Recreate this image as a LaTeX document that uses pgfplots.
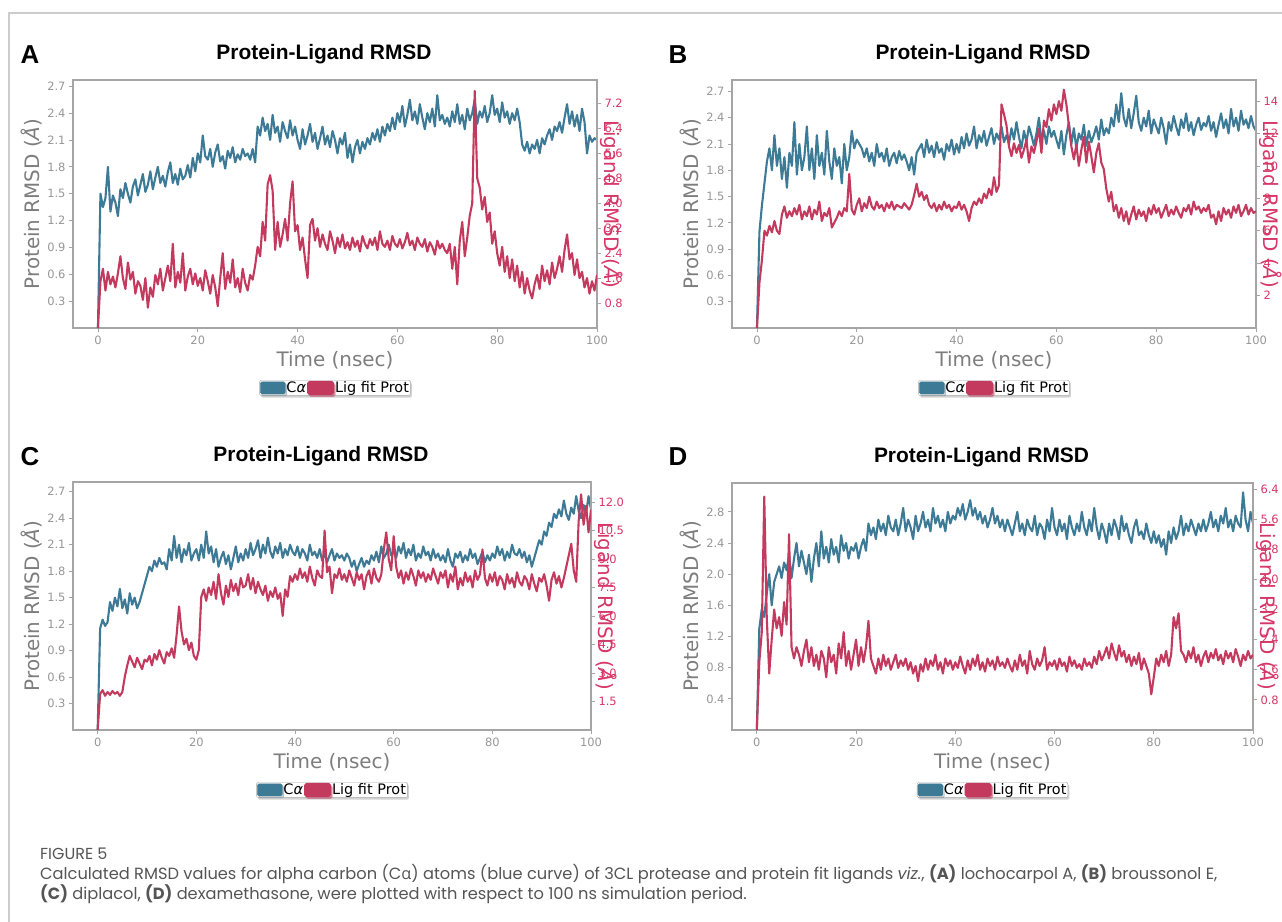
\documentclass[border=0pt]{standalone}
\usepackage{pgfplots}
\pgfplotsset{compat=1.18}
\usepackage{fontspec}
\setmainfont{DejaVu Sans}
\newfontfamily\titlefont{Liberation Sans}
\newfontfamily\capfont{Poppins}
\newfontfamily\grkfont{Open Sans}
\usetikzlibrary{shadows}

\definecolor{ablue}{RGB}{61,122,150}
\definecolor{ared}{RGB}{196,58,94}
\definecolor{rlab}{RGB}{214,54,104}
\definecolor{tickgray}{RGB}{150,150,150}
\definecolor{labgray}{RGB}{125,125,125}
\definecolor{framegray}{RGB}{165,165,165}
\definecolor{capgray}{RGB}{85,85,85}

\pgfplotsset{
  table/tab/.style={row sep=\\, header=false, x expr=\coordindex*0.5, y index=0},
  rmsd/.style={
    scale only axis, xmin=-5, xmax=100, ymin=0,
    tick align=outside, major tick length=4bp,
    every tick/.style={framegray, line width=0.8bp},
    axis line style={framegray, line width=1.2bp},
    tick label style={font=\fontsize{11.5}{13}\selectfont},
    /pgf/number format/assume math mode=true,
  },
  protax/.style={rmsd,
    xtick={0,20,40,60,80,100}, xtick pos=lower, ytick pos=left,
    xticklabel style={tickgray},
    yticklabel style={tickgray, /pgf/number format/.cd, fixed, fixed zerofill, precision=1},
    title={Protein-Ligand RMSD},
    title style={font=\titlefont\bfseries\fontsize{21}{24}\selectfont, at={(axis description cs:0.5,1)}, anchor=center, yshift=20bp, xshift=-11bp},
    xlabel={Time (nsec)},
    xlabel style={labgray, font=\fontsize{20}{24}\selectfont, at={(axis description cs:0.5,0)}, anchor=center, yshift=-32bp},
    ylabel={Protein RMSD (\textit{Å})},
    ylabel style={labgray, font=\fontsize{20}{24}\selectfont, at={(axis description cs:0,0.5)}, anchor=center, yshift=41bp},
  },
  ligax/.style={rmsd,
    axis x line=none, axis y line*=right, ytick pos=right,
    ylabel={Ligand RMSD (\textit{Å})},
    ylabel style={rlab, font=\fontsize{20}{24}\selectfont, at={(axis description cs:1,0.5)}, anchor=center, rotate=180, yshift=15bp},
    legend columns=2,
    legend style={at={(axis description cs:0.5,0)}, anchor=north, yshift=-52bp,
      draw=gray!70, rounded corners=1.5bp, fill=white,
      drop shadow={shadow xshift=1.5bp, shadow yshift=-2bp, fill=gray!70},
      font=\fontsize{14.5}{16}\selectfont, inner sep=0.5bp, nodes={inner sep=1bp},
      /tikz/column sep=0pt},
    legend image code/.code={\fill (0bp,-6bp) rectangle (25bp,6bp);},
  },
  ser/.style={line width=2.1bp, no markers, line join=round},
}

\begin{document}
\begin{tikzpicture}
% frame lines of the figure
\draw[gray!40, line width=1.5bp] (1282bp,-13bp) -- (9bp,-13bp) -- (9bp,-922bp);

% ================= A =================
\begin{axis}[protax, at={(73bp,-328bp)}, anchor=south west, width=524bp, height=248bp,
  ymax=2.77, ytick={0.3,0.6,0.9,1.2,1.5,1.8,2.1,2.4,2.7}]
\addplot[ser, ablue] table[tab] {
0.00\\ 1.50\\ 1.35\\ 1.45\\ 1.80\\ 1.30\\ 1.48\\ 1.40\\ 1.25\\ 1.55\\ 1.45\\ 1.62\\ 1.50\\ 1.40\\ 1.58\\ 1.66\\ 1.48\\ 1.60\\ 1.72\\ 1.52\\
1.60\\ 1.75\\ 1.55\\ 1.68\\ 1.80\\ 1.62\\ 1.70\\ 1.58\\ 1.74\\ 1.85\\ 1.62\\ 1.72\\ 1.60\\ 1.78\\ 1.66\\ 1.70\\ 1.82\\ 1.68\\ 1.90\\ 1.75\\
1.95\\ 1.85\\ 2.15\\ 1.92\\ 1.88\\ 2.00\\ 1.80\\ 1.96\\ 2.05\\ 1.86\\ 1.92\\ 1.78\\ 1.98\\ 1.90\\ 2.02\\ 1.85\\ 1.94\\ 1.88\\ 2.00\\ 1.92\\
1.95\\ 1.88\\ 2.00\\ 1.85\\ 2.25\\ 2.15\\ 2.35\\ 2.20\\ 2.28\\ 2.10\\ 2.38\\ 2.18\\ 2.25\\ 2.08\\ 2.30\\ 2.20\\ 2.12\\ 2.32\\ 2.15\\ 2.25\\
2.10\\ 2.00\\ 2.22\\ 2.05\\ 2.15\\ 2.28\\ 2.08\\ 2.18\\ 2.00\\ 2.12\\ 2.25\\ 2.05\\ 2.15\\ 2.02\\ 2.20\\ 2.10\\ 1.95\\ 2.12\\ 2.05\\ 2.18\\
1.90\\ 2.05\\ 1.85\\ 2.02\\ 2.10\\ 1.95\\ 2.08\\ 2.00\\ 2.12\\ 2.05\\ 2.18\\ 2.10\\ 2.22\\ 2.08\\ 2.25\\ 2.15\\ 2.28\\ 2.20\\ 2.35\\ 2.22\\
2.40\\ 2.30\\ 2.48\\ 2.25\\ 2.38\\ 2.55\\ 2.32\\ 2.42\\ 2.28\\ 2.50\\ 2.35\\ 2.22\\ 2.40\\ 2.30\\ 2.45\\ 2.25\\ 2.60\\ 2.32\\ 2.38\\ 2.28\\
2.35\\ 2.25\\ 2.42\\ 2.30\\ 2.50\\ 2.28\\ 2.38\\ 2.22\\ 2.45\\ 2.32\\ 2.40\\ 2.55\\ 2.28\\ 2.42\\ 2.35\\ 2.48\\ 2.30\\ 2.40\\ 2.60\\ 2.38\\
2.45\\ 2.30\\ 2.52\\ 2.35\\ 2.42\\ 2.28\\ 2.40\\ 2.32\\ 2.45\\ 2.30\\ 2.05\\ 1.98\\ 2.08\\ 1.95\\ 2.05\\ 2.00\\ 2.10\\ 1.95\\ 2.12\\ 2.05\\
2.15\\ 2.22\\ 2.10\\ 2.25\\ 2.20\\ 2.30\\ 2.18\\ 2.35\\ 2.50\\ 2.28\\ 2.42\\ 2.25\\ 2.38\\ 2.20\\ 2.45\\ 2.30\\ 1.95\\ 2.15\\ 2.08\\ 2.12\\
2.10\\
};
\end{axis}
\begin{axis}[ligax, at={(73bp,-328bp)}, anchor=south west, width=524bp, height=248bp,
  ymax=7.95, ytick={0.8,1.6,2.4,3.2,4.0,4.8,5.6,6.4,7.2},
  yticklabel style={rlab, /pgf/number format/.cd, fixed, fixed zerofill, precision=1}]
\addlegendimage{ablue}
\addlegendentry{C\textit{α}}
\addplot[ser, ared] table[tab] {
0.00\\ 1.50\\ 1.90\\ 1.20\\ 1.80\\ 1.40\\ 1.65\\ 1.30\\ 1.75\\ 2.30\\ 1.60\\ 1.25\\ 2.10\\ 1.55\\ 1.80\\ 1.10\\ 1.50\\ 1.35\\ 0.90\\ 1.60\\
0.65\\ 1.30\\ 1.00\\ 1.70\\ 1.40\\ 1.90\\ 1.20\\ 1.60\\ 2.00\\ 1.50\\ 2.70\\ 1.30\\ 1.80\\ 1.45\\ 2.40\\ 1.20\\ 1.65\\ 1.90\\ 1.40\\ 1.75\\
1.35\\ 1.60\\ 1.20\\ 1.85\\ 1.50\\ 1.10\\ 1.70\\ 1.30\\ 0.70\\ 1.60\\ 2.40\\ 1.25\\ 1.80\\ 1.45\\ 2.20\\ 1.30\\ 1.60\\ 1.15\\ 1.90\\ 1.45\\
1.20\\ 1.70\\ 1.55\\ 2.00\\ 2.60\\ 2.30\\ 3.40\\ 2.80\\ 4.60\\ 4.90\\ 4.40\\ 2.50\\ 3.40\\ 2.60\\ 3.00\\ 3.50\\ 2.80\\ 4.00\\ 4.70\\ 3.10\\
3.30\\ 2.50\\ 2.90\\ 2.20\\ 1.60\\ 3.30\\ 3.50\\ 2.80\\ 3.20\\ 2.60\\ 3.00\\ 2.70\\ 2.50\\ 3.10\\ 2.80\\ 2.40\\ 2.90\\ 2.60\\ 3.00\\ 2.55\\
2.75\\ 2.50\\ 2.90\\ 2.60\\ 2.80\\ 2.45\\ 2.95\\ 2.70\\ 2.55\\ 2.85\\ 2.65\\ 2.90\\ 2.50\\ 3.10\\ 2.70\\ 2.60\\ 2.80\\ 2.50\\ 2.95\\ 2.70\\
2.60\\ 2.85\\ 2.55\\ 2.75\\ 3.05\\ 2.65\\ 2.80\\ 2.50\\ 2.90\\ 2.70\\ 2.60\\ 2.85\\ 2.45\\ 2.75\\ 2.60\\ 2.35\\ 2.80\\ 2.55\\ 2.70\\ 2.50\\
2.40\\ 2.70\\ 1.90\\ 2.60\\ 1.40\\ 2.80\\ 3.40\\ 2.30\\ 2.90\\ 3.60\\ 4.00\\ 7.60\\ 4.80\\ 4.50\\ 3.80\\ 4.20\\ 3.40\\ 3.70\\ 2.70\\ 3.10\\
2.40\\ 2.00\\ 2.60\\ 1.80\\ 2.30\\ 1.60\\ 2.20\\ 1.50\\ 2.00\\ 1.30\\ 1.80\\ 1.10\\ 1.60\\ 1.20\\ 0.95\\ 1.40\\ 1.70\\ 1.25\\ 2.00\\ 1.50\\
1.85\\ 1.40\\ 2.10\\ 1.60\\ 1.90\\ 2.30\\ 1.80\\ 2.50\\ 3.00\\ 2.20\\ 2.40\\ 1.70\\ 2.20\\ 1.60\\ 1.80\\ 1.30\\ 1.60\\ 1.10\\ 1.50\\ 1.20\\
1.70\\
};
\addlegendentry{Lig fit Prot}
\end{axis}

% ================= B =================
\begin{axis}[protax, at={(732bp,-328bp)}, anchor=south west, width=524bp, height=248bp,
  ymax=2.83, ytick={0.3,0.6,0.9,1.2,1.5,1.8,2.1,2.4,2.7}]
\addplot[ser, ablue] table[tab] {
0.00\\ 1.10\\ 1.40\\ 1.65\\ 1.90\\ 2.05\\ 1.80\\ 2.20\\ 1.85\\ 2.05\\ 1.70\\ 1.95\\ 1.60\\ 2.00\\ 1.85\\ 2.35\\ 1.75\\ 2.10\\ 1.80\\ 1.95\\
2.30\\ 1.80\\ 2.05\\ 1.70\\ 2.20\\ 1.85\\ 2.00\\ 1.75\\ 2.25\\ 1.90\\ 1.70\\ 2.05\\ 1.85\\ 1.95\\ 1.65\\ 2.10\\ 1.80\\ 1.95\\ 2.25\\ 2.05\\
2.15\\ 2.10\\ 2.05\\ 1.95\\ 2.05\\ 1.90\\ 2.00\\ 1.85\\ 2.10\\ 1.95\\ 2.00\\ 1.90\\ 2.05\\ 1.85\\ 1.95\\ 2.00\\ 1.88\\ 2.02\\ 1.92\\ 1.98\\
1.90\\ 1.80\\ 1.95\\ 1.75\\ 2.00\\ 2.05\\ 2.10\\ 1.95\\ 2.15\\ 2.00\\ 2.08\\ 1.95\\ 2.12\\ 2.00\\ 2.05\\ 1.92\\ 2.10\\ 2.02\\ 2.15\\ 1.98\\
2.10\\ 2.00\\ 2.18\\ 2.05\\ 2.22\\ 2.08\\ 2.15\\ 2.30\\ 2.05\\ 2.20\\ 2.12\\ 2.25\\ 2.08\\ 2.18\\ 2.28\\ 2.10\\ 2.22\\ 2.15\\ 2.30\\ 2.12\\
2.20\\ 2.10\\ 2.28\\ 2.15\\ 2.35\\ 2.18\\ 2.05\\ 2.25\\ 2.12\\ 2.30\\ 2.20\\ 2.08\\ 2.22\\ 2.40\\ 2.15\\ 2.25\\ 2.10\\ 2.30\\ 2.18\\ 2.25\\
2.15\\ 2.05\\ 2.25\\ 1.98\\ 2.20\\ 2.35\\ 2.10\\ 2.28\\ 2.05\\ 2.22\\ 2.15\\ 2.32\\ 2.08\\ 2.25\\ 2.12\\ 2.20\\ 2.30\\ 2.15\\ 2.38\\ 2.20\\
2.28\\ 2.22\\ 2.40\\ 2.30\\ 2.55\\ 2.35\\ 2.68\\ 2.40\\ 2.30\\ 2.50\\ 2.28\\ 2.45\\ 2.65\\ 2.35\\ 2.25\\ 2.40\\ 2.30\\ 2.48\\ 2.22\\ 2.38\\
2.30\\ 2.22\\ 2.40\\ 2.28\\ 2.10\\ 2.35\\ 2.25\\ 2.42\\ 2.30\\ 2.20\\ 2.38\\ 2.28\\ 2.45\\ 2.25\\ 2.35\\ 2.20\\ 2.32\\ 2.40\\ 2.26\\ 2.34\\
2.30\\ 2.42\\ 2.25\\ 2.35\\ 2.18\\ 2.32\\ 2.45\\ 2.28\\ 2.38\\ 2.22\\ 2.50\\ 2.30\\ 2.40\\ 2.25\\ 2.48\\ 2.32\\ 2.38\\ 2.28\\ 2.42\\ 2.30\\
2.25\\
};
\end{axis}
\begin{axis}[ligax, at={(732bp,-328bp)}, anchor=south west, width=524bp, height=248bp,
  ymax=15.3, ytick={2,4,6,8,10,12,14}, yticklabel style={rlab}]
\addlegendimage{ablue}
\addlegendentry{C\textit{α}}
\addplot[ser, ared] table[tab] {
0.00\\ 2.80\\ 4.20\\ 6.00\\ 5.70\\ 6.30\\ 5.90\\ 6.60\\ 6.00\\ 5.80\\ 7.00\\ 7.50\\ 6.80\\ 7.20\\ 6.90\\ 7.40\\ 7.00\\ 7.60\\ 6.70\\ 7.20\\
6.90\\ 7.50\\ 6.70\\ 7.30\\ 7.00\\ 7.80\\ 6.60\\ 7.10\\ 6.90\\ 7.40\\ 6.20\\ 6.50\\ 6.80\\ 7.20\\ 6.90\\ 7.40\\ 7.20\\ 9.50\\ 7.30\\ 7.00\\
7.60\\ 8.00\\ 7.20\\ 7.70\\ 7.40\\ 8.10\\ 7.50\\ 7.30\\ 7.80\\ 7.40\\ 7.60\\ 7.20\\ 7.70\\ 7.40\\ 7.80\\ 7.30\\ 7.60\\ 7.50\\ 7.40\\ 7.70\\
7.50\\ 7.30\\ 7.60\\ 8.20\\ 8.90\\ 8.10\\ 8.40\\ 7.90\\ 8.20\\ 7.60\\ 7.40\\ 7.70\\ 7.20\\ 7.60\\ 7.30\\ 7.80\\ 7.40\\ 7.60\\ 7.20\\ 7.50\\
7.40\\ 7.80\\ 7.30\\ 7.60\\ 7.20\\ 6.60\\ 7.40\\ 7.80\\ 7.60\\ 8.00\\ 7.70\\ 8.30\\ 8.00\\ 8.60\\ 8.20\\ 9.30\\ 8.40\\ 8.80\\ 13.80\\ 13.20\\
12.50\\ 11.20\\ 10.60\\ 11.40\\ 10.80\\ 11.30\\ 10.50\\ 11.00\\ 11.60\\ 10.20\\ 11.20\\ 10.80\\ 11.50\\ 12.30\\ 10.80\\ 12.80\\ 12.40\\ 13.50\\ 12.80\\ 13.80\\
13.20\\ 14.00\\ 13.40\\ 14.70\\ 13.80\\ 12.50\\ 11.20\\ 10.40\\ 11.30\\ 10.00\\ 11.00\\ 11.80\\ 10.20\\ 11.50\\ 10.60\\ 9.60\\ 10.80\\ 11.40\\ 10.20\\ 9.80\\
8.60\\ 7.80\\ 8.40\\ 7.20\\ 7.60\\ 6.80\\ 7.40\\ 6.60\\ 7.20\\ 6.40\\ 7.00\\ 7.50\\ 6.70\\ 7.30\\ 6.90\\ 7.20\\ 6.60\\ 7.40\\ 7.00\\ 7.60\\
7.10\\ 7.40\\ 6.80\\ 7.20\\ 7.60\\ 6.90\\ 7.30\\ 7.00\\ 7.50\\ 7.10\\ 6.80\\ 7.40\\ 7.20\\ 7.60\\ 7.00\\ 7.80\\ 7.30\\ 7.50\\ 7.10\\ 7.40\\
7.20\\ 7.60\\ 6.80\\ 7.00\\ 6.40\\ 7.20\\ 6.60\\ 7.40\\ 7.00\\ 7.30\\ 6.80\\ 7.50\\ 7.10\\ 7.60\\ 6.90\\ 7.20\\ 7.60\\ 7.00\\ 7.40\\ 7.10\\
7.20\\
};
\addlegendentry{Lig fit Prot}
\end{axis}

% ================= C =================
\begin{axis}[protax, at={(73bp,-730bp)}, anchor=south west, width=518bp, height=248bp,
  ymax=2.81, ytick={0.3,0.6,0.9,1.2,1.5,1.8,2.1,2.4,2.7}]
\addplot[ser, ablue] table[tab] {
0.00\\ 1.15\\ 1.25\\ 1.18\\ 1.22\\ 1.45\\ 1.35\\ 1.50\\ 1.40\\ 1.60\\ 1.38\\ 1.48\\ 1.32\\ 1.55\\ 1.42\\ 1.50\\ 1.38\\ 1.45\\ 1.55\\ 1.65\\
1.75\\ 1.85\\ 1.80\\ 1.92\\ 1.85\\ 1.95\\ 1.88\\ 1.90\\ 1.82\\ 2.05\\ 1.92\\ 2.20\\ 1.95\\ 2.10\\ 1.90\\ 2.05\\ 1.98\\ 2.12\\ 1.92\\ 2.00\\
2.05\\ 1.92\\ 2.10\\ 1.95\\ 2.25\\ 2.00\\ 2.08\\ 1.90\\ 2.05\\ 1.85\\ 1.95\\ 2.02\\ 1.88\\ 1.98\\ 1.82\\ 1.95\\ 2.08\\ 1.90\\ 2.00\\ 1.92\\
2.05\\ 1.95\\ 2.12\\ 1.98\\ 2.05\\ 2.15\\ 1.95\\ 2.10\\ 2.00\\ 2.18\\ 2.02\\ 1.95\\ 2.08\\ 2.00\\ 2.12\\ 1.95\\ 2.05\\ 1.98\\ 2.10\\ 2.02\\
1.98\\ 2.08\\ 1.95\\ 2.05\\ 2.00\\ 1.92\\ 2.10\\ 1.98\\ 2.02\\ 1.95\\ 2.05\\ 1.92\\ 2.00\\ 1.90\\ 1.98\\ 2.05\\ 1.92\\ 2.00\\ 1.95\\ 1.98\\
1.92\\ 2.00\\ 1.95\\ 1.85\\ 1.92\\ 1.80\\ 1.88\\ 1.95\\ 1.85\\ 1.92\\ 1.88\\ 1.98\\ 1.92\\ 2.02\\ 1.90\\ 2.08\\ 1.95\\ 2.00\\ 2.10\\ 1.98\\
2.02\\ 1.95\\ 2.08\\ 2.00\\ 2.12\\ 1.95\\ 2.05\\ 1.98\\ 2.10\\ 1.92\\ 2.00\\ 1.95\\ 2.08\\ 1.98\\ 2.02\\ 1.92\\ 2.05\\ 1.95\\ 2.00\\ 1.92\\
1.98\\ 1.90\\ 2.05\\ 1.92\\ 1.85\\ 2.00\\ 1.95\\ 2.02\\ 1.90\\ 1.98\\ 1.92\\ 2.05\\ 1.95\\ 2.00\\ 1.88\\ 1.95\\ 2.02\\ 1.90\\ 1.98\\ 1.92\\
2.00\\ 1.95\\ 2.08\\ 1.98\\ 2.05\\ 1.92\\ 2.02\\ 1.95\\ 2.10\\ 2.00\\ 1.98\\ 2.05\\ 1.95\\ 2.02\\ 1.90\\ 1.98\\ 1.85\\ 1.95\\ 2.05\\ 2.15\\
2.10\\ 2.25\\ 2.20\\ 2.35\\ 2.30\\ 2.45\\ 2.40\\ 2.50\\ 2.42\\ 2.60\\ 2.45\\ 2.38\\ 2.52\\ 2.45\\ 2.65\\ 2.48\\ 2.40\\ 2.55\\ 2.45\\ 2.65\\
2.50\\
};
\end{axis}
\begin{axis}[ligax, at={(73bp,-730bp)}, anchor=south west, width=518bp, height=248bp,
  ymax=13.05, ytick={1.5,3,4.5,6,7.5,9,10.5,12},
  yticklabel style={rlab, /pgf/number format/.cd, fixed, fixed zerofill, precision=1}]
\addlegendimage{ablue}
\addlegendentry{C\textit{α}}
\addplot[ser, ared] table[tab] {
0.00\\ 1.90\\ 2.10\\ 1.80\\ 2.00\\ 1.85\\ 2.05\\ 1.90\\ 2.00\\ 1.80\\ 2.00\\ 2.80\\ 3.40\\ 3.90\\ 3.60\\ 3.30\\ 3.80\\ 3.50\\ 3.20\\ 3.70\\
3.60\\ 3.90\\ 3.40\\ 4.00\\ 3.70\\ 4.20\\ 3.80\\ 3.50\\ 4.10\\ 3.90\\ 4.30\\ 3.80\\ 5.00\\ 6.50\\ 5.20\\ 4.50\\ 4.80\\ 4.20\\ 4.60\\ 3.90\\
3.70\\ 4.20\\ 7.00\\ 7.40\\ 6.80\\ 7.50\\ 7.10\\ 7.80\\ 6.90\\ 8.20\\ 7.20\\ 6.60\\ 7.60\\ 7.00\\ 7.90\\ 7.30\\ 7.70\\ 7.10\\ 8.00\\ 7.50\\
7.60\\ 8.20\\ 7.40\\ 8.00\\ 7.20\\ 7.80\\ 7.40\\ 7.10\\ 7.60\\ 6.80\\ 7.30\\ 7.00\\ 7.50\\ 6.90\\ 7.20\\ 6.00\\ 7.40\\ 7.00\\ 8.10\\ 7.80\\
8.20\\ 7.90\\ 8.50\\ 8.00\\ 8.30\\ 7.80\\ 8.60\\ 8.00\\ 7.60\\ 8.40\\ 8.10\\ 8.00\\ 10.50\\ 8.30\\ 8.60\\ 7.20\\ 8.20\\ 8.00\\ 8.50\\ 7.90\\
8.20\\ 7.80\\ 8.40\\ 8.00\\ 7.60\\ 8.30\\ 7.90\\ 8.20\\ 7.40\\ 8.10\\ 8.40\\ 7.70\\ 8.50\\ 8.00\\ 7.80\\ 8.20\\ 9.50\\ 10.40\\ 9.00\\ 8.40\\
10.20\\ 8.60\\ 8.00\\ 8.40\\ 7.70\\ 8.30\\ 7.90\\ 8.50\\ 8.10\\ 7.60\\ 8.40\\ 8.00\\ 8.30\\ 7.80\\ 8.20\\ 7.90\\ 8.50\\ 8.10\\ 7.70\\ 8.30\\
8.00\\ 8.40\\ 7.50\\ 8.20\\ 7.80\\ 8.60\\ 7.40\\ 8.00\\ 7.60\\ 8.30\\ 7.80\\ 8.10\\ 7.50\\ 8.40\\ 7.90\\ 8.20\\ 9.50\\ 8.00\\ 7.60\\ 8.20\\
7.80\\ 8.30\\ 7.60\\ 8.10\\ 7.90\\ 7.40\\ 8.20\\ 7.70\\ 8.00\\ 7.50\\ 8.30\\ 7.80\\ 7.60\\ 8.10\\ 7.90\\ 7.40\\ 8.20\\ 7.70\\ 7.30\\ 8.00\\
7.80\\ 8.20\\ 7.60\\ 6.80\\ 7.90\\ 8.30\\ 7.70\\ 8.10\\ 7.50\\ 8.00\\ 8.60\\ 9.20\\ 9.80\\ 8.40\\ 7.80\\ 11.00\\ 12.40\\ 10.80\\ 11.80\\ 10.40\\
11.60\\
};
\addlegendentry{Lig fit Prot}
\end{axis}

% ================= D =================
\begin{axis}[protax, at={(732bp,-730bp)}, anchor=south west, width=521bp, height=247bp,
  ymax=3.17, ytick={0.4,0.8,1.2,1.6,2.0,2.4,2.8}]
\addplot[ser, ablue] table[tab] {
0.00\\ 1.30\\ 1.55\\ 1.45\\ 1.75\\ 2.00\\ 1.60\\ 1.90\\ 2.00\\ 2.10\\ 1.95\\ 2.15\\ 2.05\\ 2.25\\ 1.95\\ 2.20\\ 2.40\\ 2.10\\ 2.30\\ 2.15\\
2.00\\ 2.25\\ 1.90\\ 2.20\\ 2.40\\ 2.10\\ 2.55\\ 2.20\\ 2.35\\ 2.15\\ 2.45\\ 2.25\\ 2.35\\ 2.15\\ 2.50\\ 2.30\\ 2.40\\ 2.20\\ 2.35\\ 2.30\\
2.40\\ 2.20\\ 2.35\\ 2.45\\ 2.30\\ 2.65\\ 2.50\\ 2.60\\ 2.45\\ 2.70\\ 2.55\\ 2.65\\ 2.50\\ 2.75\\ 2.60\\ 2.55\\ 2.70\\ 2.50\\ 2.65\\ 2.85\\
2.55\\ 2.70\\ 2.60\\ 2.45\\ 2.75\\ 2.55\\ 2.65\\ 2.80\\ 2.60\\ 2.70\\ 2.55\\ 2.85\\ 2.65\\ 2.75\\ 2.60\\ 2.70\\ 2.55\\ 2.80\\ 2.65\\ 2.75\\
2.70\\ 2.85\\ 2.75\\ 2.90\\ 2.70\\ 2.80\\ 2.95\\ 2.75\\ 2.85\\ 2.70\\ 2.80\\ 2.65\\ 2.75\\ 2.60\\ 2.70\\ 2.85\\ 2.65\\ 2.75\\ 2.60\\ 2.70\\
2.55\\ 2.70\\ 2.60\\ 2.50\\ 2.65\\ 2.80\\ 2.55\\ 2.65\\ 2.50\\ 2.70\\ 2.60\\ 2.55\\ 2.75\\ 2.50\\ 2.65\\ 2.60\\ 2.45\\ 2.70\\ 2.55\\ 2.85\\
2.60\\ 2.50\\ 2.70\\ 2.55\\ 2.65\\ 2.45\\ 2.75\\ 2.60\\ 2.50\\ 2.65\\ 2.55\\ 2.80\\ 2.60\\ 2.50\\ 2.70\\ 2.55\\ 2.85\\ 2.60\\ 2.45\\ 2.65\\
2.55\\ 2.40\\ 2.65\\ 2.50\\ 2.70\\ 2.60\\ 2.45\\ 2.75\\ 2.55\\ 2.65\\ 2.50\\ 2.40\\ 2.60\\ 2.70\\ 2.50\\ 2.55\\ 2.45\\ 2.65\\ 2.50\\ 2.40\\
2.55\\ 2.40\\ 2.50\\ 2.35\\ 2.45\\ 2.25\\ 2.55\\ 2.40\\ 2.60\\ 2.45\\ 2.55\\ 2.75\\ 2.50\\ 2.65\\ 2.55\\ 2.70\\ 2.60\\ 2.50\\ 2.65\\ 2.55\\
2.70\\ 2.55\\ 2.65\\ 2.80\\ 2.60\\ 2.70\\ 2.55\\ 2.75\\ 2.65\\ 2.85\\ 2.60\\ 2.70\\ 2.55\\ 2.75\\ 2.65\\ 2.60\\ 3.05\\ 2.70\\ 2.55\\ 2.80\\
2.65\\
};
\end{axis}
\begin{axis}[ligax, at={(732bp,-730bp)}, anchor=south west, width=521bp, height=247bp,
  ymax=6.56, ytick={0.8,1.6,2.4,3.2,4.0,4.8,5.6,6.4},
  yticklabel style={rlab, /pgf/number format/.cd, fixed, fixed zerofill, precision=1}]
\addlegendimage{ablue}
\addlegendentry{C\textit{α}}
\addplot[ser, ared] table[tab] {
0.00\\ 1.80\\ 2.60\\ 6.20\\ 3.00\\ 1.50\\ 2.40\\ 3.20\\ 2.70\\ 3.00\\ 2.50\\ 3.40\\ 2.80\\ 5.20\\ 2.20\\ 1.90\\ 2.20\\ 2.00\\ 1.70\\ 2.10\\
2.40\\ 1.80\\ 2.20\\ 1.70\\ 2.00\\ 1.60\\ 2.10\\ 1.90\\ 1.40\\ 2.20\\ 1.80\\ 2.00\\ 1.50\\ 2.30\\ 1.90\\ 2.60\\ 1.70\\ 2.10\\ 1.60\\ 2.00\\
2.40\\ 1.70\\ 2.20\\ 1.80\\ 2.20\\ 2.90\\ 1.90\\ 1.70\\ 1.50\\ 1.90\\ 1.60\\ 2.00\\ 1.70\\ 1.90\\ 1.60\\ 1.80\\ 2.00\\ 1.65\\ 1.85\\ 1.70\\
1.90\\ 1.60\\ 1.80\\ 1.50\\ 1.70\\ 1.30\\ 1.75\\ 1.55\\ 1.90\\ 1.60\\ 1.85\\ 1.70\\ 2.00\\ 1.60\\ 1.80\\ 1.50\\ 1.90\\ 1.70\\ 1.85\\ 1.60\\
1.80\\ 1.65\\ 1.95\\ 1.70\\ 1.50\\ 1.85\\ 1.60\\ 1.90\\ 1.70\\ 2.00\\ 1.60\\ 1.80\\ 1.55\\ 1.90\\ 1.70\\ 1.85\\ 1.60\\ 1.95\\ 1.70\\ 1.80\\
1.65\\ 1.90\\ 1.70\\ 1.55\\ 1.85\\ 1.60\\ 2.00\\ 1.70\\ 1.85\\ 1.50\\ 2.10\\ 1.75\\ 1.60\\ 1.90\\ 1.70\\ 1.85\\ 2.20\\ 1.60\\ 1.80\\ 1.70\\
1.85\\ 1.60\\ 1.90\\ 1.70\\ 1.80\\ 1.55\\ 1.95\\ 1.70\\ 1.85\\ 1.65\\ 1.75\\ 1.60\\ 1.90\\ 1.70\\ 1.80\\ 1.65\\ 1.95\\ 1.75\\ 2.10\\ 1.85\\
2.00\\ 2.20\\ 1.90\\ 2.30\\ 2.05\\ 1.85\\ 2.25\\ 1.95\\ 2.10\\ 1.80\\ 2.00\\ 1.70\\ 1.95\\ 1.75\\ 2.05\\ 1.60\\ 1.90\\ 1.70\\ 1.50\\ 0.95\\
1.40\\ 1.90\\ 1.70\\ 2.00\\ 1.80\\ 2.10\\ 1.70\\ 2.00\\ 3.00\\ 2.70\\ 3.10\\ 2.10\\ 2.00\\ 1.80\\ 2.10\\ 1.90\\ 2.20\\ 1.80\\ 2.00\\ 1.70\\
1.95\\ 2.10\\ 1.80\\ 2.05\\ 1.90\\ 2.15\\ 1.85\\ 2.00\\ 1.75\\ 2.10\\ 1.90\\ 2.05\\ 1.80\\ 2.15\\ 1.95\\ 1.70\\ 2.00\\ 1.85\\ 2.10\\ 1.90\\
2.00\\
};
\addlegendentry{Lig fit Prot}
\end{axis}

% panel letters
\node[font=\titlefont\bfseries\fontsize{26}{30}\selectfont] at (30bp,-55bp) {A};
\node[font=\titlefont\bfseries\fontsize{26}{30}\selectfont] at (678bp,-55bp) {B};
\node[font=\titlefont\bfseries\fontsize{26}{30}\selectfont] at (30bp,-457bp) {C};
\node[font=\titlefont\bfseries\fontsize{26}{30}\selectfont] at (678bp,-457bp) {D};

% caption
\node[anchor=base west, inner sep=0, capgray, font=\capfont\fontsize{16}{20}\selectfont] at (40bp,-859bp) {FIGURE 5};
\node[anchor=base west, inner sep=0, capgray, font=\capfont\fontsize{16.3}{20}\selectfont] at (40bp,-879bp)
  {Calculated RMSD values for alpha carbon (C{\grkfont α}) atoms (blue curve) of 3CL protease and protein fit ligands \textit{viz.}, \textbf{(A)} lochocarpol A, \textbf{(B)} broussonol E,};
\node[anchor=base west, inner sep=0, capgray, font=\capfont\fontsize{16.3}{20}\selectfont] at (40bp,-899bp)
  {\textbf{(C)} diplacol, \textbf{(D)} dexamethasone, were plotted with respect to 100 ns simulation period.};

\pgfresetboundingbox
\path[use as bounding box] (0,0) rectangle (1282bp,-922bp);
\end{tikzpicture}
\end{document}
